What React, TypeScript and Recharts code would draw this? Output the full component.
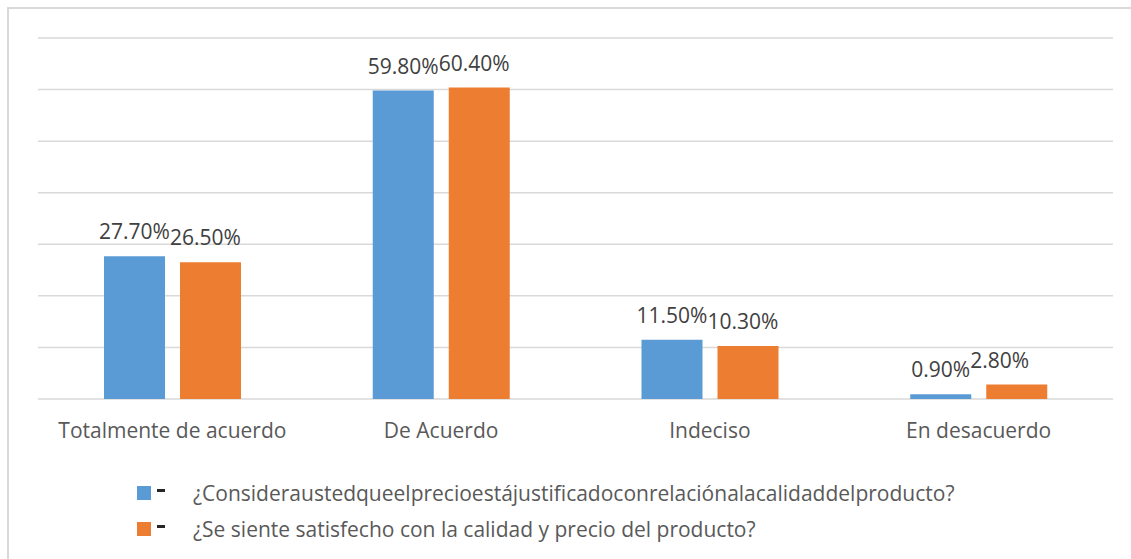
import React from "react";
import { BarChart, Bar, XAxis, YAxis, CartesianGrid, Legend, LabelList } from "recharts";

// Respuestas de la encuesta (porcentaje)
const categorias = ["Totalmente de acuerdo", "De Acuerdo", "Indeciso", "En desacuerdo"];
const precioJustificado = [27.7, 59.8, 11.5, 0.9];
const satisfecho = [26.5, 60.4, 10.3, 2.8];
const yTicks = [0, 10, 20, 30, 40, 50, 60, 70];

const SERIES = [
  { key: "p1", name: "¿Consideraustedqueelprecioestájustificadoconrelaciónalacalidaddelproducto?", color: "#5B9BD5" },
  { key: "p2", name: "¿Se siente satisfecho con la calidad y precio del producto?", color: "#ED7D31" },
];

const data = categorias.map((c, i) => ({
  categoria: c,
  p1: precioJustificado[i],
  p2: satisfecho[i],
}));

const FONT = "'Open Sans', sans-serif";
const LABEL_SIZE = 21;
const BAR_SIZE = 61;
const BAR_GAP = 15;

const fmt = (v: any) => `${Number(v).toFixed(2)}%`;

// ancho del texto para pegar la etiqueta naranja a la azul
let ctx: CanvasRenderingContext2D | null = null;
const textWidth = (s: string) => {
  if (!ctx) ctx = document.createElement("canvas").getContext("2d");
  if (!ctx) return s.length * 11;
  ctx.font = `${LABEL_SIZE}px 'Open Sans'`;
  return ctx.measureText(s).width;
};

const CategoryTick = ({ x, y, payload }: any) => (
  <text x={x} y={y + 39} textAnchor="middle" fill="#595959" fontSize={21} fontFamily={FONT}>
    {payload.value}
  </text>
);

// etiqueta de la segunda serie, colocada justo después de la etiqueta de la primera
const EtiquetaNaranja = (props: any) => {
  const { x, y, width, value, index } = props;
  const blueCenter = x - BAR_GAP - width / 2;
  const start = blueCenter + textWidth(fmt(precioJustificado[index])) / 2;
  return (
    <text x={start} y={y - 17} textAnchor="start" fill="#404040" fontSize={LABEL_SIZE} fontFamily={FONT}>
      {fmt(value)}
    </text>
  );
};

const LeyendaPersonalizada = () => (
  <div style={{ height: 110, paddingTop: 26, paddingLeft: 128, boxSizing: "border-box", fontFamily: FONT }}>
    {SERIES.map((s) => (
      <div key={s.key} style={{ display: "flex", alignItems: "center", height: 36 }}>
        <span style={{ width: 14, height: 14, background: s.color, display: "inline-block" }} />
        <span style={{ width: 8, height: 3, background: "#262626", display: "inline-block", marginLeft: 6, marginTop: -6 }} />
        <span style={{ marginLeft: 28, fontSize: 21, color: "#595959", whiteSpace: "nowrap" }}>{s.name}</span>
      </div>
    ))}
  </div>
);

export default function App() {
  return (
    <div
      style={{
        position: "fixed",
        top: 7,
        left: 7,
        width: 1124,
        height: 552,
        borderTop: "2px solid #d9d9d9",
        borderLeft: "2px solid #d9d9d9",
        boxSizing: "border-box",
        background: "#fff",
      }}
    >
      <BarChart
        width={1122}
        height={550}
        data={data}
        margin={{ top: 29, right: 18, left: 29, bottom: 0 }}
        barSize={BAR_SIZE}
        barGap={BAR_GAP}
      >
        <CartesianGrid vertical={false} stroke="#d9d9d9" strokeWidth={1.5} />
        <XAxis
          dataKey="categoria"
          axisLine={false}
          tickLine={false}
          tickSize={0}
          tickMargin={0}
          height={50}
          interval={0}
          tick={<CategoryTick />}
        />
        <YAxis hide width={0} domain={[0, 70]} ticks={yTicks} />
        <Legend verticalAlign="bottom" content={<LeyendaPersonalizada />} wrapperStyle={{ left: 0, width: 1122 }} />
        <Bar dataKey="p1" name={SERIES[0].name} fill={SERIES[0].color} isAnimationActive={false}>
          <LabelList
            dataKey="p1"
            position="top"
            offset={17}
            formatter={fmt}
            fill="#404040"
            fontSize={LABEL_SIZE}
            fontFamily={FONT}
          />
        </Bar>
        <Bar dataKey="p2" name={SERIES[1].name} fill={SERIES[1].color} isAnimationActive={false}>
          <LabelList dataKey="p2" content={<EtiquetaNaranja />} />
        </Bar>
      </BarChart>
    </div>
  );
}
